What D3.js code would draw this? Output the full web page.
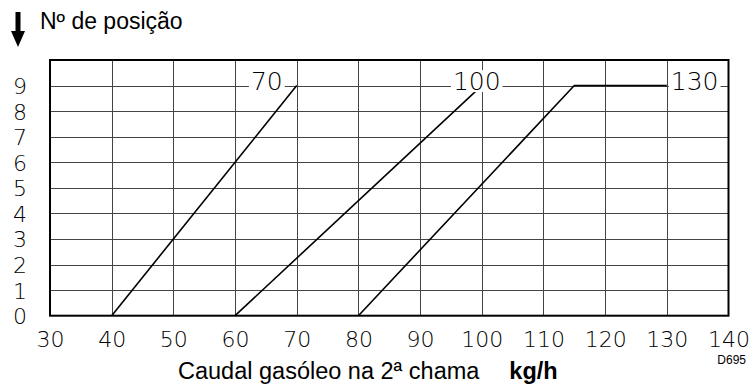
<!DOCTYPE html>
<html>
<head>
<meta charset="utf-8">
<script src="https://cdn.jsdelivr.net/npm/d3@7"></script>
<style>
  html, body { margin: 0; padding: 0; background: #fff; }
  svg { display: block; }
  .tick-num { font-family: "DejaVu Sans", sans-serif; font-weight: 200; fill: #000; }
  .caption { font-family: "Liberation Sans", Arial, sans-serif; fill: #000; }
</style>
</head>
<body>
<svg id="chart" width="750" height="385"></svg>
<script>
// Oil flow rate on the 2nd stage (kg/h) against the setting position number
const xTicks = [30, 40, 50, 60, 70, 80, 90, 100, 110, 120, 130, 140];
const yTicks = [0, 1, 2, 3, 4, 5, 6, 7, 8, 9];

const seriesNames = ["70", "100", "130"];
const flow70 = [40, 70];
const pos70 = [0, 9];
const flow100 = [60, 100];
const pos100 = [0, 9];
const flow130 = [80, 115, 130];
const pos130 = [0, 9, 9];

const series = [
  { name: seriesNames[0], flow: flow70, pos: pos70, anchor: "end", dx: -14 },
  { name: seriesNames[1], flow: flow100, pos: pos100, anchor: "middle", dx: -5 },
  { name: seriesNames[2], flow: flow130, pos: pos130, anchor: "start", dx: 4 }
];

const svg = d3.select("#chart");

const plot = { left: 50, right: 728.5, top: 60, bottom: 315.7 };

const x = d3.scaleLinear().domain([30, 140]).range([plot.left, plot.right]);
const y = d3.scaleLinear().domain([0, 10]).range([plot.bottom, plot.top]);

// grid
const grid = svg.append("g");
grid.selectAll("line.v")
  .data(xTicks.slice(1, -1))
  .join("line")
  .attr("x1", d => Math.round(x(d)) + 0.5)
  .attr("x2", d => Math.round(x(d)) + 0.5)
  .attr("y1", plot.top)
  .attr("y2", plot.bottom)
  .attr("stroke", "#444")
  .attr("stroke-width", 1);
grid.selectAll("line.h")
  .data(yTicks.slice(1))
  .join("line")
  .attr("x1", plot.left)
  .attr("x2", plot.right)
  .attr("y1", d => Math.round(y(d)) + 0.5)
  .attr("y2", d => Math.round(y(d)) + 0.5)
  .attr("stroke", "#444")
  .attr("stroke-width", 1);

// series lines
const line = d3.line()
  .x(d => x(d[0]))
  .y(d => y(d[1]));

svg.append("g")
  .selectAll("path")
  .data(series)
  .join("path")
  .attr("d", s => line(s.flow.map((f, i) => [f, s.pos[i]])))
  .attr("fill", "none")
  .attr("stroke", "#000")
  .attr("stroke-width", 1.6);

// series labels on white patches at the line ends
const labels = svg.append("g");
series.forEach(s => {
  const n = s.flow.length - 1;
  const g = labels.append("g");
  const t = g.append("text")
    .attr("class", "tick-num")
    .attr("x", x(s.flow[n]) + s.dx)
    .attr("y", y(s.pos[n]) + 4.5)
    .attr("text-anchor", s.anchor)
    .style("font-size", "25px")
    .text(s.name);
  const b = t.node().getBBox();
  g.insert("rect", "text")
    .attr("x", b.x - 2)
    .attr("y", b.y + 3)
    .attr("width", b.width + 4)
    .attr("height", b.height - 7)
    .attr("fill", "#fff");
});

// plot frame
svg.append("rect")
  .attr("x", plot.left)
  .attr("y", plot.top)
  .attr("width", plot.right - plot.left)
  .attr("height", plot.bottom - plot.top)
  .attr("fill", "none")
  .attr("stroke", "#000")
  .attr("stroke-width", 2);

// axis tick labels
const xAxis = d3.axisBottom(x).tickValues(xTicks).tickSize(0).tickPadding(0);
svg.append("g")
  .attr("transform", `translate(0,${plot.bottom})`)
  .call(xAxis)
  .call(g => g.select(".domain").remove())
  .call(g => g.selectAll("text")
    .attr("class", "tick-num")
    .attr("dy", null)
    .attr("y", 31)
    .attr("font-family", null)
    .attr("font-size", null)
    .style("font-size", "22px"));

const yAxis = d3.axisLeft(y).tickValues(yTicks).tickSize(0).tickPadding(0);
svg.append("g")
  .attr("transform", `translate(20,0)`)
  .call(yAxis)
  .call(g => g.select(".domain").remove())
  .call(g => g.selectAll("text")
    .attr("class", "tick-num")
    .attr("text-anchor", "middle")
    .attr("x", 0)
    .attr("dy", "0.36em")
    .attr("font-family", null)
    .attr("font-size", null)
    .style("font-size", "22px"));

// heading with down arrow
svg.append("rect")
  .attr("x", 15.5).attr("y", 12).attr("width", 5).attr("height", 21)
  .attr("fill", "#000");
svg.append("path")
  .attr("d", "M11,31 L25,31 L18,47 Z")
  .attr("fill", "#000");
svg.append("text")
  .attr("class", "caption")
  .attr("x", 40)
  .attr("y", 28.5)
  .style("font-size", "23px")
  .text("Nº de posição");

// x-axis title
const xt = svg.append("text")
  .attr("class", "caption")
  .attr("x", 178)
  .attr("y", 379)
  .style("font-size", "23.5px");
xt.append("tspan").text("Caudal gasóleo na 2ª chama");
xt.append("tspan").attr("dx", 30).attr("font-weight", "bold").text("kg/h");

// drawing reference
svg.append("text")
  .attr("class", "caption")
  .attr("x", 746)
  .attr("y", 364)
  .attr("text-anchor", "end")
  .style("font-size", "12px")
  .text("D695");
</script>
</body>
</html>
